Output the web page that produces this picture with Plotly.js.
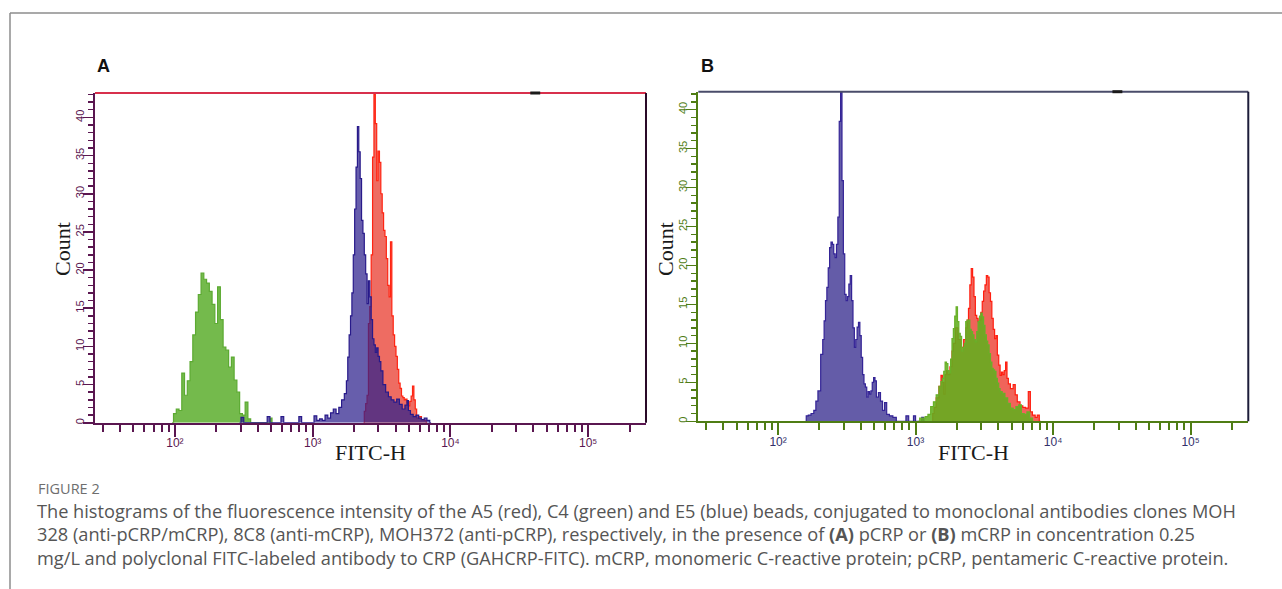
<!DOCTYPE html>
<html>
<head>
<meta charset="utf-8">
<script src="https://cdn.plot.ly/plotly-3.0.1.min.js"></script>
<style>html,body{margin:0;padding:0;background:#fff;}#chart{width:1282px;height:589px;}</style>
</head>
<body>
<div id="chart"></div>
<script>
// ---------- DATA (log10 FITC-H channel, count) ----------
// Panel A (pCRP)
const aGreenLog = [1.98,2.00,2.02,2.04,2.06,2.08,2.10,2.12,2.14,2.16,2.18,2.20,2.22,2.24,2.26,2.28,2.30,2.32,2.34,2.36,2.38,2.40,2.42,2.44,2.46,2.48,2.50,2.52,2.54,2.56,2.69,2.70,2.71];
const aGreenCnt = [0,1.2,1.8,1.6,6.5,3.6,5.5,8.0,11.5,14.5,16.8,19.6,18.8,18.3,17.2,15.5,13.0,17.8,13.5,9.9,9.5,7.3,8.6,5.6,4.0,1.2,1.0,2.7,0.5,0,0,0.6,0];

const aRedLog = [3.37,3.38,3.39,3.40,3.41,3.42,3.43,3.44,3.45,3.46,3.47,3.48,3.49,3.50,3.51,3.52,3.53,3.54,3.55,3.56,3.57,3.58,3.59,3.60,3.61,3.62,3.63,3.64,3.65,3.66,3.67,3.68,3.69,3.70,3.71,3.72,3.73,3.74,3.75,3.76,3.78,3.80,3.82,3.83];
const aRedCnt = [0,1.5,2.5,3.6,13.0,15.2,22.0,34.8,43.0,39.2,31.7,35.6,34.1,30.0,27.5,25.2,24.4,21.5,18.0,16.5,23.7,14.0,11.5,10.0,8.7,7.0,5.2,4.5,3.5,3.3,3.0,3.1,2.6,2.2,2.8,3.5,4.8,3.0,1.8,0.6,0.8,0.4,0.3,0];

const aBlueLog = [2.47,2.49,2.51,2.66,2.68,2.70,2.76,2.78,2.80,2.89,2.91,2.93,3.00,3.02,3.04,3.06,3.08,3.10,3.12,3.14,3.16,3.18,3.20,3.22,3.24,3.25,3.26,3.27,3.28,3.29,3.30,3.31,3.32,3.33,3.34,3.35,3.36,3.37,3.38,3.39,3.40,3.41,3.42,3.43,3.44,3.45,3.46,3.47,3.48,3.49,3.50,3.52,3.54,3.56,3.58,3.60,3.62,3.64,3.66,3.68,3.69,3.70,3.72,3.74,3.76,3.78,3.80,3.82,3.84,3.86];
const aBlueCnt = [0,0.7,0,0,0.8,0,0,0.8,0,0,0.8,0,0,0.9,0.3,0.5,0.3,1.0,0.6,1.3,1.8,1.2,2.0,3.0,3.8,5.5,8.6,11.5,14.0,17.0,22.0,28.0,33.5,38.8,35.5,32.0,26.5,24.8,22.0,19.5,15.6,18.6,16.5,13.5,11.0,10.2,9.2,9.8,8.7,8.0,6.8,5.0,4.0,3.4,3.0,2.7,3.1,2.4,1.8,2.3,2.9,1.6,1.1,0.8,1.0,0.6,0.4,0.6,0.3,0];

// Panel B (mCRP)
const bBlueLog = [2.20,2.21,2.23,2.25,2.27,2.28,2.30,2.32,2.33,2.34,2.35,2.36,2.37,2.38,2.39,2.40,2.41,2.42,2.43,2.44,2.45,2.46,2.47,2.48,2.49,2.50,2.51,2.52,2.53,2.54,2.55,2.56,2.57,2.58,2.59,2.60,2.61,2.62,2.63,2.64,2.65,2.66,2.67,2.68,2.69,2.70,2.71,2.72,2.74,2.75,2.77,2.78,2.80,2.82,2.85,2.87,2.92,2.94,2.96,2.98,2.99,3.01,3.04,3.05,3.07];
const bBlueCnt = [0,0.7,0.8,1.0,1.4,2.6,3.9,8.6,10.5,12.9,15.5,17.2,19.7,22.3,23.0,22.7,21.5,21.0,22.7,26.2,38.5,42.3,30.9,21.5,16.3,15.5,16.0,17.6,18.7,15.5,12.0,9.5,10.5,12.1,12.7,11.0,8.2,6.0,4.8,4.4,3.1,3.8,3.5,3.9,5.0,5.6,5.2,3.1,3.7,2.6,1.4,2.4,0.9,0.7,0.5,0,0,0.7,0,0,0.7,0,0,0.5,0];

const bRedLog = [3.12,3.13,3.14,3.16,3.18,3.19,3.20,3.21,3.22,3.23,3.24,3.26,3.27,3.28,3.30,3.32,3.34,3.36,3.37,3.38,3.39,3.40,3.41,3.42,3.43,3.44,3.45,3.46,3.47,3.48,3.49,3.50,3.51,3.52,3.53,3.54,3.55,3.56,3.57,3.58,3.59,3.60,3.61,3.62,3.63,3.64,3.65,3.66,3.67,3.68,3.70,3.72,3.73,3.75,3.77,3.79,3.81,3.83,3.84,3.86,3.88,3.89,3.91];
const bRedCnt = [0,1.0,1.8,3.0,4.5,5.9,5.0,3.5,6.0,6.5,6.0,7.0,9.0,10.0,12.0,10.5,9.5,10.5,12.0,13.0,14.5,17.5,19.6,18.5,16.0,13.6,13.2,12.8,13.0,14.0,15.4,16.7,17.5,18.7,18.5,16.5,15.4,13.2,11.8,10.6,11.0,8.5,7.2,5.9,6.3,6.0,6.5,7.6,5.5,4.8,4.2,4.7,3.4,2.5,2.0,1.8,1.7,3.8,1.2,0.8,0.5,0.8,0];

const bGreenLog = [3.02,3.04,3.06,3.08,3.10,3.12,3.14,3.16,3.18,3.19,3.20,3.21,3.22,3.23,3.24,3.25,3.26,3.27,3.28,3.29,3.30,3.31,3.32,3.33,3.34,3.35,3.36,3.37,3.38,3.39,3.40,3.41,3.42,3.43,3.44,3.45,3.46,3.47,3.48,3.49,3.50,3.51,3.52,3.53,3.54,3.55,3.56,3.57,3.58,3.59,3.60,3.61,3.62,3.64,3.66,3.68,3.70,3.72,3.74,3.76,3.78,3.80,3.82,3.84,3.86];
const bGreenCnt = [0,0.4,0.4,0.6,0.9,1.9,2.5,3.4,4.5,5.1,5.5,6.4,7.6,7.4,6.5,6.2,8.0,10.6,11.9,13.5,14.7,12.8,11.3,10.9,9.0,9.5,10.0,12.8,13.0,13.0,11.8,11.5,11.1,10.5,10.2,11.5,12.8,13.5,13.9,13.4,12.3,11.1,10.3,9.8,8.7,7.6,6.8,6.6,6.4,5.5,4.9,4.2,3.8,3.6,3.0,2.3,1.7,1.5,1.9,2.1,1.0,0.9,1.2,0.4,0];

// Axis ticks
const majorTickVals = [100, 1000, 10000, 100000];
const majorTickText = ['10\u00B2', '10\u00B3', '10\u2074', '10\u2075'];
const minorTickVals = [30,40,50,60,70,80,90,200,300,400,500,600,700,800,900,2000,3000,4000,5000,6000,7000,8000,9000,20000,30000,40000,50000,60000,70000,80000,90000,200000];

const captionLines = [
  'The histograms of the fluorescence intensity of the A5 (red), C4 (green) and E5 (blue) beads, conjugated to monoclonal antibodies clones MOH',
  '328 (anti-pCRP/mCRP), 8C8 (anti-mCRP), MOH372 (anti-pCRP), respectively, in the presence of <b>(A)</b> pCRP or <b>(B)</b> mCRP in concentration 0.25',
  'mg/L and polyclonal FITC-labeled antibody to CRP (GAHCRP-FITC). mCRP, monomeric C-reactive protein; pCRP, pentameric C-reactive protein.'
];

// ---------- BUILD ----------
const toLin = arr => arr.map(v => Math.pow(10, v));
function hist(logs, cnts, xa, ya, fill, line, name) {
  return {
    type: 'scatter', mode: 'lines', name: name,
    x: toLin(logs), y: cnts, xaxis: xa, yaxis: ya,
    line: {shape: 'hvh', color: line, width: 1.2},
    fill: 'tozeroy', fillcolor: fill, hoverinfo: 'x+y'
  };
}

const traces = [
  hist(aGreenLog, aGreenCnt, 'x', 'y', 'rgb(116,186,76)', 'rgb(92,170,50)', 'C4 (green)'),
  hist(aRedLog, aRedCnt, 'x', 'y', 'rgb(238,108,98)', 'rgb(255,36,18)', 'A5 (red)'),
  hist(aBlueLog, aBlueCnt, 'x', 'y', 'rgba(45,32,140,0.72)', 'rgb(40,26,138)', 'E5 (blue)'),
  hist(bBlueLog, bBlueCnt, 'x2', 'y2', 'rgb(100,92,168)', 'rgb(52,36,150)', 'E5 (blue)'),
  hist(bRedLog, bRedCnt, 'x2', 'y2', 'rgb(240,100,90)', 'rgb(255,30,16)', 'A5 (red)'),
  hist(bGreenLog, bGreenCnt, 'x2', 'y2', 'rgba(98,174,30,0.88)', 'rgb(104,176,40)', 'C4 (green)')
];

const tickFontFam = 'Arial, "Liberation Sans", "DejaVu Sans", sans-serif';
function xAxis(domain, anchor, col, labelCol) {
  return {
    domain: domain, anchor: anchor, type: 'log', range: [1.42, 5.42],
    showline: true, linewidth: 2, linecolor: col, mirror: false,
    showgrid: false, zeroline: false,
    ticks: 'outside', ticklen: 12, tickwidth: 2, tickcolor: col,
    tickmode: 'array', tickvals: majorTickVals, ticktext: majorTickText,
    tickfont: {family: tickFontFam, size: 12, color: labelCol},
    ticklabelstandoff: -4,
    minor: {tickmode: 'array', tickvals: minorTickVals, ticks: 'outside', ticklen: 7, tickwidth: 2, tickcolor: col, showgrid: false},
    fixedrange: true
  };
}
function yAxis(domain, anchor, top, col, labelCol) {
  return {
    domain: domain, anchor: anchor, range: [0, top],
    showline: true, linewidth: 2, linecolor: col,
    showgrid: false, zeroline: false,
    ticks: 'outside', ticklen: 10, tickwidth: 1.6, tickcolor: col,
    tick0: 0, dtick: 5, tickangle: -90,
    tickfont: {family: tickFontFam, size: 11, color: labelCol},
    ticklabelstandoff: -5,
    minor: {dtick: 1, ticks: 'outside', ticklen: 5, tickwidth: 1.4, tickcolor: col, showgrid: false},
    fixedrange: true
  };
}

const purple = '#5a1650', green = '#4f7d14';
const layout = {
  width: 1282, height: 589,
  margin: {l: 0, r: 0, t: 0, b: 0},
  paper_bgcolor: '#ffffff', plot_bgcolor: '#ffffff',
  showlegend: false,
  xaxis: xAxis([0.0741, 0.5039], 'y', purple, '#5a1650'),
  yaxis: yAxis([0.2823, 0.8421], 'x', 43.2, purple, '#5a1650'),
  xaxis2: xAxis([0.5447, 0.9737], 'y2', green, '#33306a'),
  yaxis2: yAxis([0.2847, 0.8443], 'x2', 42.3, green, '#4f7d14'),
  shapes: [
    // outer figure frame
    {type: 'line', xref: 'paper', yref: 'paper', x0: 10/1282, x1: 1, y0: 1 - 13/589, y1: 1 - 13/589, line: {color: '#8c8c8c', width: 1.5}},
    {type: 'line', xref: 'paper', yref: 'paper', x0: 10/1282, x1: 10/1282, y0: 0, y1: 1 - 13/589, line: {color: '#8c8c8c', width: 1.5}},
    // panel A borders
    {type: 'line', xref: 'x domain', yref: 'y domain', x0: 0, x1: 1, y0: 1, y1: 1, line: {color: '#d8304c', width: 2}},
    {type: 'line', xref: 'x domain', yref: 'y domain', x0: 1, x1: 1, y0: 0, y1: 1, line: {color: '#2a0a28', width: 2}},
    {type: 'line', xref: 'x domain', yref: 'y domain', x0: 0.79, x1: 0.808, y0: 1, y1: 1, line: {color: '#1a1a1a', width: 3}},
    // panel B borders
    {type: 'line', xref: 'x2 domain', yref: 'y2 domain', x0: 0, x1: 1, y0: 1, y1: 1, line: {color: '#4a4c6a', width: 2}},
    {type: 'line', xref: 'x2 domain', yref: 'y2 domain', x0: 1, x1: 1, y0: 0, y1: 1, line: {color: '#1c1c3a', width: 2}},
    {type: 'line', xref: 'x2 domain', yref: 'y2 domain', x0: 0.753, x1: 0.771, y0: 1, y1: 1, line: {color: '#1a1a1a', width: 3}}
  ],
  annotations: []
};

const serif = '"Liberation Serif", "Times New Roman", serif';
const sans = '"Open Sans", "Noto Sans", sans-serif';
const ann = layout.annotations;
// panel letters
ann.push({text: '<b>A</b>', xref: 'paper', yref: 'paper', x: 103.5/1282, y: 1 - 66/589, showarrow: false, xanchor: 'center', yanchor: 'middle', font: {family: 'Arial, "Liberation Sans", sans-serif', size: 18, color: '#111'}});
ann.push({text: '<b>B</b>', xref: 'paper', yref: 'paper', x: 708/1282, y: 1 - 66/589, showarrow: false, xanchor: 'center', yanchor: 'middle', font: {family: 'Arial, "Liberation Sans", sans-serif', size: 18, color: '#111'}});
// axis titles
[['x', 'y', 62, 249], ['x2', 'y2', 665, 249]].forEach(function (p) {
  ann.push({text: 'FITC-H', xref: p[0] + ' domain', yref: 'paper', x: 0.5, y: 1 - 452/589, showarrow: false, xanchor: 'center', yanchor: 'middle', font: {family: serif, size: 22, color: '#1a1a1a'}});
  ann.push({text: 'Count', xref: 'paper', yref: 'paper', x: p[2]/1282, y: 1 - p[3]/589, textangle: -90, showarrow: false, xanchor: 'center', yanchor: 'middle', font: {family: serif, size: 22, color: '#1a1a1a'}});
});
// caption
ann.push({text: 'FIGURE 2', xref: 'paper', yref: 'paper', x: 36/1282, y: 1 - 488/589, showarrow: false, xanchor: 'left', yanchor: 'middle', font: {family: sans, size: 14.5, color: '#6e6e6e'}});
captionLines.forEach(function (t, i) {
  ann.push({text: t, xref: 'paper', yref: 'paper', x: 35/1282, y: 1 - (511 + i * 23.3)/589, showarrow: false, xanchor: 'left', yanchor: 'middle', font: {family: sans, size: 18.2, color: '#555555'}});
});

Plotly.newPlot('chart', traces, layout, {staticPlot: true, displayModeBar: false});
</script>
</body>
</html>
